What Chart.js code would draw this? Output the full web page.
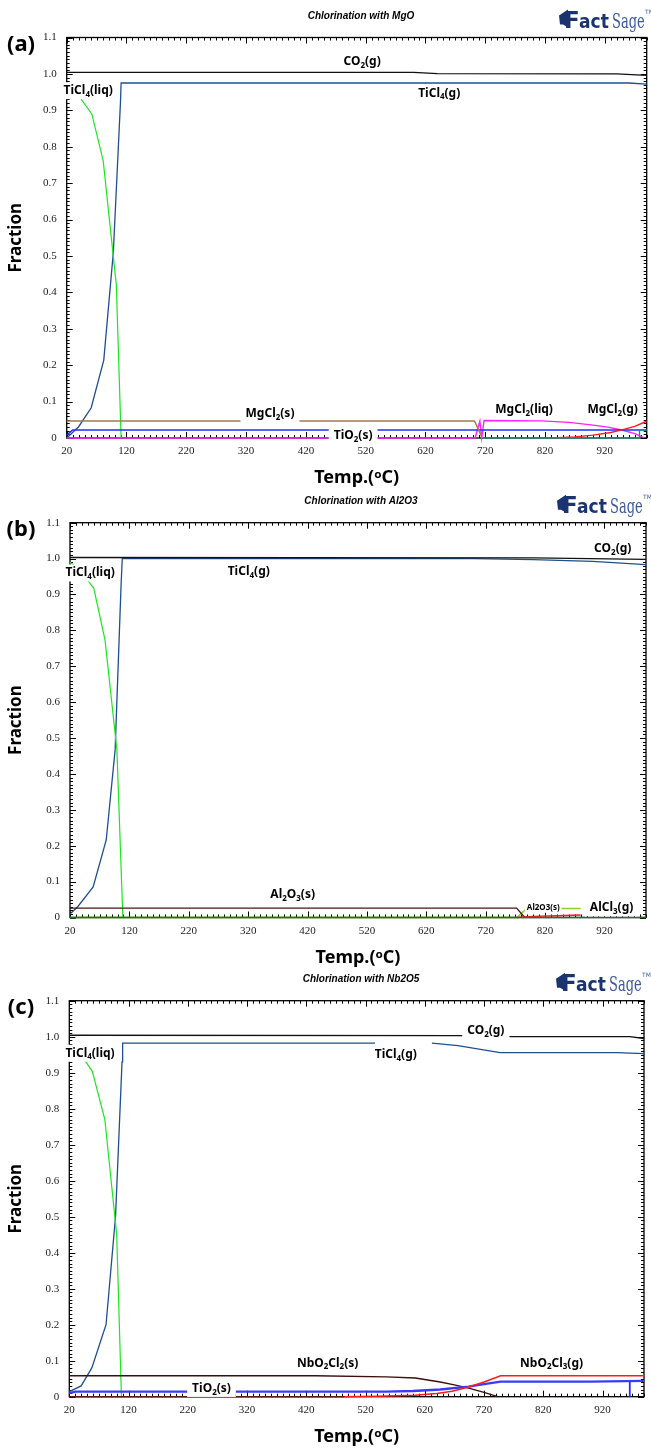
<!DOCTYPE html>
<html>
<head>
<meta charset="utf-8">
<script src="https://cdn.jsdelivr.net/npm/chart.js@4.4.0/dist/chart.umd.min.js"></script>
<style>
  html, body { margin: 0; padding: 0; background: #fff; }
  body { width: 651px; height: 1450px; position: relative; overflow: hidden; }
  .panel { position: absolute; left: 0; width: 651px; }
</style>
</head>
<body>
<div class="panel" style="top:0px"><canvas id="ca" width="651" height="490"></canvas></div>
<div class="panel" style="top:484px"><canvas id="cb" width="651" height="490"></canvas></div>
<div class="panel" style="top:962px"><canvas id="cc" width="651" height="488"></canvas></div>
<script>
// --- axis ticks ---
const xTicks = [20, 120, 220, 320, 420, 520, 620, 720, 820, 920];
const yTicks = [0, 0.1, 0.2, 0.3, 0.4, 0.5, 0.6, 0.7, 0.8, 0.9, 1.0, 1.1];
const yTickLabels = ['0', '0.1', '0.2', '0.3', '0.4', '0.5', '0.6', '0.7', '0.8', '0.9', '1.0', '1.1'];
const tMin = 20, tMax = 990;

const titles = ['Chlorination with MgO', 'Chlorination with Al2O3', 'Chlorination with Nb2O5'];
const tags = ['(a)', '(b)', '(c)'];

// --- (a) MgO : [temperature, fraction] ---
const aCO2 = [[20, 1.004], [600, 1.004], [640, 1.001], [940, 1.0], [990, 0.996]];
const aTiCl4g = [[20, 0], [40, 0.031], [61, 0.083], [82, 0.214], [98, 0.51], [110, 0.925], [111, 0.975], [960, 0.975], [990, 0.972]];
const aTiCl4liq = [[20, 0.975], [40, 0.94], [62, 0.89], [81, 0.762], [103, 0.42], [111, 0]];
const aMgCl2s = [[20, 0.047], [702, 0.047], [715, 0]];
const aMgCl2liq = [[20, 0], [703, 0], [711, 0.046], [714, 0], [718, 0.048], [814, 0.047], [860, 0.043], [897, 0.036], [925, 0.03], [948, 0.022], [970, 0.012], [985, 0.001]];
const aMgCl2g = [[830, 0], [870, 0.003], [900, 0.008], [930, 0.015], [950, 0.023], [970, 0.032], [990, 0.046]];
const aTiO2 = [[20, 0.008], [30, 0.022], [990, 0.022]];
const aMgO = [[715, 0], [978, 0], [978, 0.022], [990, 0.022]];
const aLabels = [
  ['CO_2(g)', 514, 1.034], ['TiCl_4(g)', 643, 0.947], ['TiCl_4(liq)', 56, 0.954],
  ['MgCl_2(s)', 360, 0.066], ['TiO_2(s)', 499, 0.0055],
  ['MgCl_2(liq)', 785, 0.077], ['MgCl_2(g)', 933, 0.077]
];

// --- (b) Al2O3 ---
const bCO2 = [[20, 1.003], [800, 1.002], [990, 0.998]];
const bTiCl4g = [[20, 0.01], [33, 0.03], [59, 0.085], [81, 0.216], [96, 0.467], [106, 0.926], [108, 1.0], [700, 1.0], [800, 0.997], [900, 0.992], [990, 0.983]];
const bTiCl4liq = [[20, 0.99], [40, 0.965], [54, 0.93], [60, 0.918], [79, 0.773], [99, 0.467], [109, 0]];
const bAl2O3 = [[20, 0.026], [772, 0.026], [786, 0]];
const bAlCl3 = [[20, 0], [773, 0], [789, 0.025], [880, 0.025]];
const bOther = [[772, 0], [800, 0.003], [840, 0.005], [880, 0.007]];
const bBase = [[20, 0], [990, 0]];
const bLabels = [
  ['CO_2(g)', 934, 1.028], ['TiCl_4(g)', 321, 0.963], ['TiCl_4(liq)', 54, 0.96],
  ['Al_2O_3(s)', 395, 0.063], ['AlCl_3(g)', 932, 0.027]
];
const bSmallLabels = [['Al2O3(s)', 817, 0.027]];

// --- (c) Nb2O5 ---
const cCO2 = [[20, 1.004], [677, 1.003], [769, 1.0], [966, 1.0], [990, 0.995]];
const cTiCl4g = [[20, 0.014], [40, 0.03], [58, 0.08], [82, 0.2], [98, 0.5], [109, 0.93], [110, 0.982], [536, 0.982], [580, null], [632, 0.982], [676, 0.975], [747, 0.956], [944, 0.956], [990, 0.953]];
const cTiCl4liq = [[20, 0.975], [40, 0.94], [48, 0.93], [59, 0.903], [80, 0.77], [100, 0.45], [108, 0]];
const cNbO2Cl2s = [[20, 0.058], [435, 0.058], [555, 0.055], [604, 0.052], [646, 0.041], [670, 0.033], [694, 0.024], [720, 0.012], [743, 0]];
const cNbO2Cl3g = [[484, 0], [540, 0.001], [603, 0.004], [640, 0.009], [666, 0.015], [694, 0.027], [720, 0.041], [748, 0.058], [990, 0.058]];
const cTiO2 = [[20, 0.01], [30, 0.014], [555, 0.014], [600, 0.016], [646, 0.02], [694, 0.028], [720, 0.035], [748, 0.042], [900, 0.042], [990, 0.044]];
const cStep = [[966, 0], [966, 0.044], [990, 0.044]];
const cBase = [[20, 0], [484, 0]];
const cLabels = [
  ['CO_2(g)', 723, 1.017], ['TiCl_4(g)', 571, 0.949], ['TiCl_4(liq)', 55, 0.954],
  ['NbO_2Cl_2(s)', 456, 0.093], ['TiO_2(s)', 260, 0.023], ['NbO_2Cl_3(g)', 834, 0.093]
];

// layout of the three panels (page pixels)
const panels = [
  { id: 'ca', top: 0, h: 490, plotTop: 37.5, plotBottom: 438, left: 66.7, right: 646.7, logoX: 559,
    series: [
      [aMgCl2s, '#a47a50', 1.5], [aMgO, '#2a8a7a', 1.4], [aMgCl2g, '#ff1a1a', 1.4],
      [aTiO2, '#1f2fff', 1.5], [aMgCl2liq, '#ff20ff', 1.4], [aTiCl4liq, '#1ee61e', 1.2],
      [aTiCl4g, '#1f4f8f', 1.3], [aCO2, '#111111', 1.3]
    ],
    labels: aLabels, small: [] },
  { id: 'cb', top: 484, h: 490, plotTop: 522.7, plotBottom: 917.5, left: 70, right: 646, logoX: 557,
    series: [
      [bBase, '#2a6a2a', 1.4], [bOther, '#ff1a1a', 1.4], [bAl2O3, '#4a1515', 1.3],
      [bAlCl3, '#8ad42a', 1.6], [bTiCl4liq, '#1ee61e', 1.2], [bCO2, '#111111', 1.3],
      [bTiCl4g, '#1f4f8f', 1.3]
    ],
    labels: bLabels, small: bSmallLabels },
  { id: 'cc', top: 962, h: 488, plotTop: 1000.7, plotBottom: 1396.7, left: 69.3, right: 644, logoX: 556,
    series: [
      [cBase, '#5a1a1a', 1.4], [cNbO2Cl3g, '#ff1a1a', 1.5], [cTiO2, '#3a3aff', 2.4], [cStep, '#2030ff', 1.8],
      [cNbO2Cl2s, '#3d0d0d', 1.4], [cTiCl4liq, '#1ee61e', 1.2], [cTiCl4g, '#1f4f8f', 1.3],
      [cCO2, '#111111', 1.3]
    ],
    labels: cLabels, small: [] }
];

const labelFont = '"Noto Sans", "DejaVu Sans", sans-serif';

// split 'CO_2(g)' into normal and subscript runs
function richParts(s) {
  return s.split(/(_\d)/).filter(p => p).map(p => p[0] === '_' ? { t: p.slice(1), sub: true } : { t: p, sub: false });
}

function drawRich(ctx, s, cx, cy, size) {
  const parts = richParts(s);
  const main = `bold ${size}px ${labelFont}`;
  const sub = `bold ${Math.round(size * 0.68)}px ${labelFont}`;
  let w = 0;
  parts.forEach(p => { ctx.font = p.sub ? sub : main; p.w = ctx.measureText(p.t).width; w += p.w; });
  ctx.fillStyle = '#fff';
  ctx.fillRect(cx - w / 2 - 5, cy - size / 2 - 2.5, w + 10, size + 5);
  ctx.fillStyle = '#000';
  ctx.textAlign = 'left';
  ctx.textBaseline = 'middle';
  let x0 = cx - w / 2;
  parts.forEach(p => {
    ctx.font = p.sub ? sub : main;
    ctx.fillText(p.t, x0, cy + (p.sub ? size * 0.32 : 0));
    x0 += p.w;
  });
}

function drawLogo(ctx, x, y) {
  ctx.save();
  ctx.fillStyle = '#1b3470';
  ctx.beginPath();
  ctx.moveTo(x, y + 8); ctx.lineTo(x + 9, y + 2); ctx.lineTo(x + 9, y + 20);
  ctx.lineTo(x + 4, y + 17); ctx.lineTo(x + 1, y + 17); ctx.closePath(); ctx.fill();
  ctx.textBaseline = 'alphabetic';
  ctx.textAlign = 'left';
  ctx.font = 'bold 23px "DejaVu Sans"';
  ctx.fillText('F', x + 5, y + 20);
  ctx.font = 'bold 19px "DejaVu Sans"';
  ctx.save(); ctx.translate(x + 20, y + 20); ctx.scale(0.9, 1); ctx.fillText('act', 0, 0); ctx.restore();
  ctx.fillStyle = '#3c5a9a';
  ctx.font = '21px "DejaVu Serif"';
  ctx.save(); ctx.translate(x + 53, y + 20); ctx.scale(0.62, 1); ctx.fillText('Sage', 0, 0); ctx.restore();
  ctx.font = '6px "DejaVu Sans"';
  ctx.fillText('TM', x + 86, y + 6);
  ctx.restore();
}

const framePlugin = {
  id: 'frame',
  beforeDatasetsDraw(chart) {
    const { ctx, chartArea: a, scales: { x, y } } = chart;
    ctx.save();
    ctx.strokeStyle = '#000';
    ctx.lineWidth = 1.3;
    ctx.strokeRect(a.left, a.top, a.right - a.left, a.bottom - a.top);
    ctx.lineWidth = 1;
    ctx.beginPath();
    for (let t = tMin; t <= tMax; t += 10) {
      const px = Math.round(x.getPixelForValue(t)) + 0.5;
      const len = xTicks.includes(t) ? 6 : 3;
      ctx.moveTo(px, a.bottom); ctx.lineTo(px, a.bottom - len);
      ctx.moveTo(px, a.top); ctx.lineTo(px, a.top + len);
    }
    for (let i = 0; i <= 110; i++) {
      const py = Math.round(y.getPixelForValue(i / 100)) + 0.5;
      const len = i % 10 === 0 ? 6 : 3;
      ctx.moveTo(a.left, py); ctx.lineTo(a.left + len, py);
      ctx.moveTo(a.right, py); ctx.lineTo(a.right - len, py);
    }
    ctx.stroke();
    ctx.restore();
  },
  afterDatasetsDraw(chart) {
    const { ctx, scales: { x, y } } = chart;
    const p = chart.options.plugins.frame;
    ctx.save();
    p.labels.forEach(([txt, t, v]) => drawRich(ctx, txt, x.getPixelForValue(t), y.getPixelForValue(v), 12));
    p.small.forEach(([txt, t, v]) => {
      ctx.font = `bold 8px ${labelFont}`;
      const w = ctx.measureText(txt).width;
      const cx = x.getPixelForValue(t), cy = y.getPixelForValue(v);
      ctx.fillStyle = '#fff';
      ctx.fillRect(cx - w / 2 - 2, cy - 5, w + 4, 10);
      ctx.fillStyle = '#000';
      ctx.textAlign = 'center'; ctx.textBaseline = 'middle';
      ctx.fillText(txt, cx, cy);
    });
    ctx.restore();
  },
  afterDraw(chart) {
    const { ctx, chartArea: a } = chart;
    const p = chart.options.plugins.frame;
    ctx.save();
    ctx.fillStyle = '#000';
    ctx.font = 'bold italic 10px "Liberation Sans", Arial, sans-serif';
    ctx.textAlign = 'center'; ctx.textBaseline = 'middle';
    ctx.fillText(p.title, 361, a.top - 21);
    ctx.font = `bold 22px ${labelFont}`;
    ctx.fillText(p.tag, 21, a.top + 7);
    ctx.restore();
    drawLogo(ctx, p.logoX, a.top - 30);
  }
};

panels.forEach((pn, k) => {
  const localTop = pn.plotTop - pn.top;
  const localBottom = pn.plotBottom - pn.top;
  const titleY = localBottom + 40;
  new Chart(document.getElementById(pn.id), {
    type: 'line',
    data: {
      datasets: pn.series.map(([d, c, w]) => ({
        data: d, borderColor: c, borderWidth: w, pointRadius: 0, fill: false, tension: 0, clip: false, spanGaps: false
      }))
    },
    options: {
      responsive: false,
      animation: false,
      events: [],
      layout: { padding: { top: localTop, right: 651 - pn.right, bottom: 0, left: 0 } },
      plugins: {
        legend: { display: false },
        tooltip: { enabled: false },
        frame: { labels: pn.labels, small: pn.small, title: titles[k], tag: tags[k], logoX: pn.logoX }
      },
      scales: {
        x: {
          type: 'linear', min: tMin, max: tMax,
          afterBuildTicks: s => { s.ticks = xTicks.map(v => ({ value: v })); },
          afterFit: s => { s.height = pn.h - localBottom; },
          grid: { display: false, drawTicks: false },
          border: { display: false },
          ticks: {
            autoSkip: false, maxRotation: 0, padding: 7,
            color: '#222', font: { family: '"Liberation Serif", "Times New Roman", serif', size: 11 },
            callback: v => String(v)
          },
          title: {
            display: true, text: 'Temp.(ᵒC)', color: '#000',
            font: { family: labelFont, weight: 'bold', size: 18 },
            padding: { top: 0, bottom: pn.h - titleY - 10.8 }
          }
        },
        y: {
          min: 0, max: 1.1,
          afterBuildTicks: s => { s.ticks = yTicks.map(v => ({ value: v })); },
          afterFit: s => { s.width = pn.left; },
          grid: { display: false, drawTicks: false },
          border: { display: false },
          ticks: {
            padding: 10, color: '#222',
            font: { family: '"Liberation Serif", "Times New Roman", serif', size: 11 },
            callback: (v, i) => yTickLabels[i]
          },
          title: {
            display: true, text: 'Fraction', color: '#000',
            font: { family: labelFont, weight: 'bold', size: 17 },
            padding: { top: 5.8, bottom: 0 }
          }
        }
      }
    },
    plugins: [framePlugin]
  });
});
</script>
</body>
</html>
